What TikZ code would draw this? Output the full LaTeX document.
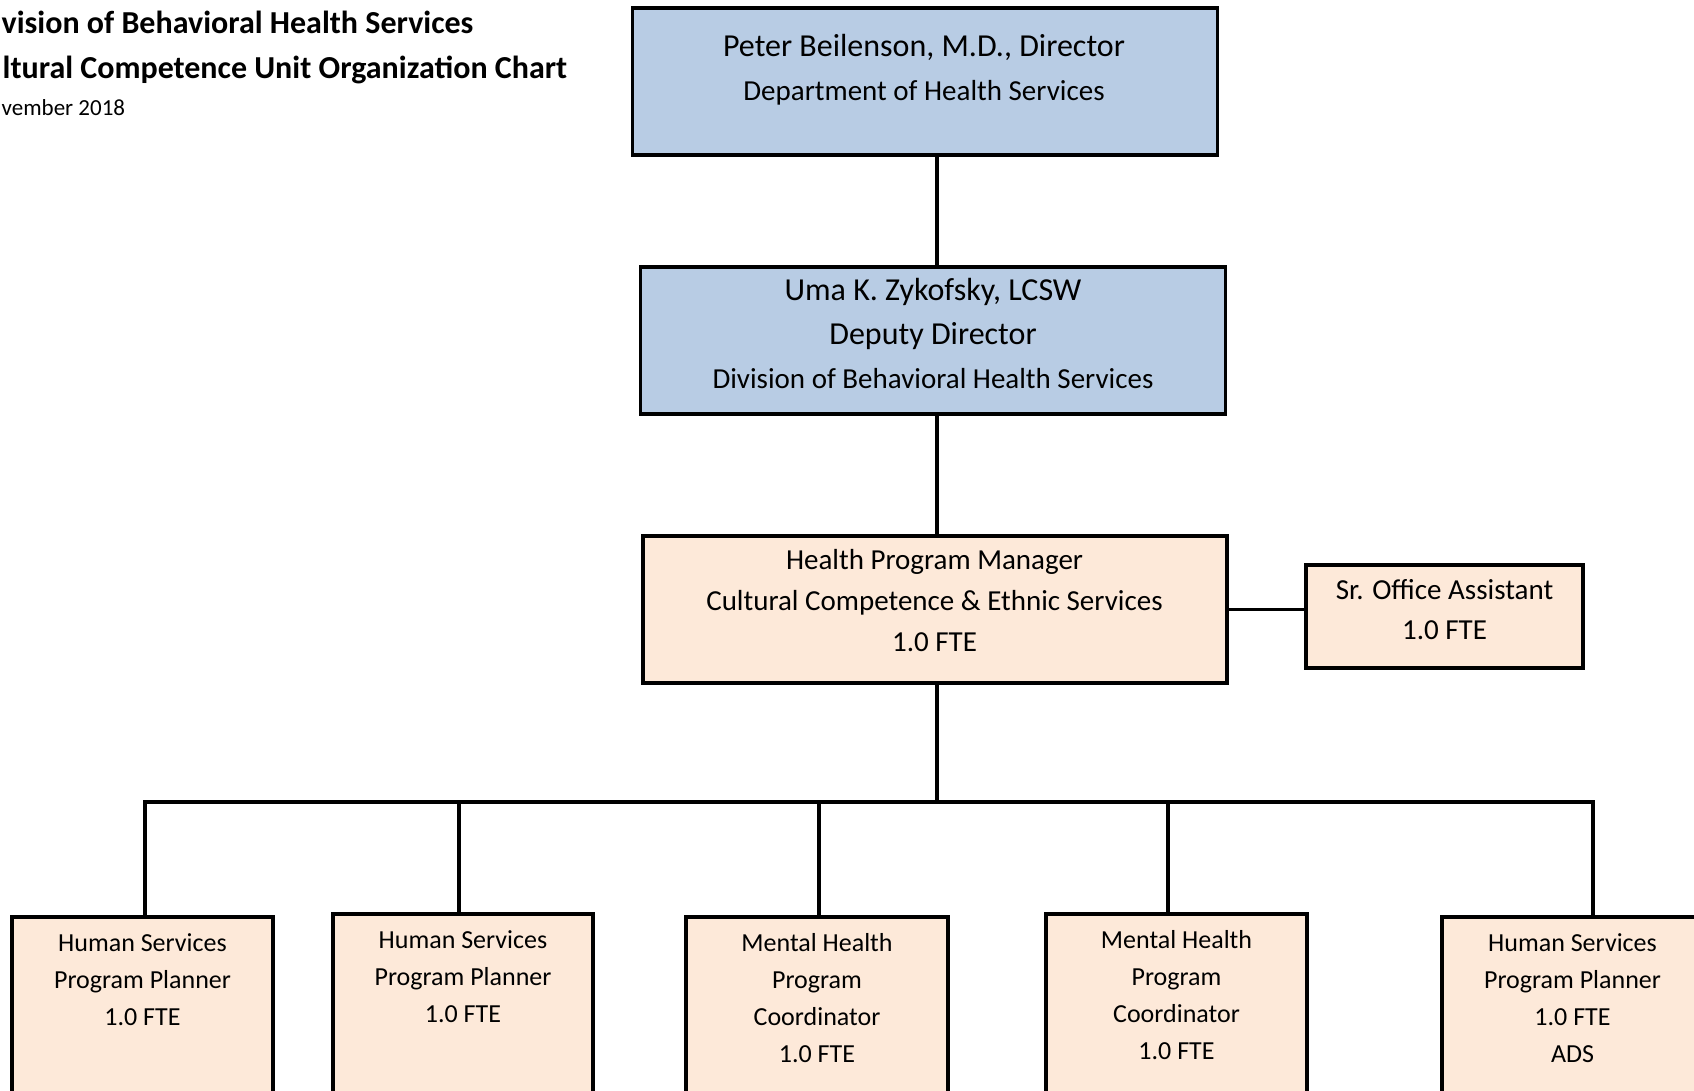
\documentclass[tikz,border=0pt]{standalone}
\usepackage{fontspec}
\setmainfont{Carlito}
\usetikzlibrary{positioning}
\definecolor{headblue}{HTML}{B8CCE4}
\definecolor{unitpeach}{HTML}{FDE9D9}

\begin{document}
\begin{tikzpicture}[x=1pt, y=-1pt, line width=3.4pt,
  headbox/.style = {draw, fill=headblue, minimum width=585pt, minimum height=147pt},
  unitbox/.style = {draw, fill=unitpeach},
  txt/.style = {align=center, inner sep=0pt},
  title/.style = {anchor=base west, inner sep=0pt}]
\useasboundingbox (0,0) rectangle (1694,1090);

% title lines, as far as the page shows them
\node[title, font=\bfseries\fontsize{32}{38}\selectfont] (title1) at (0,33) {vision of Behavioral Health Services};
\node[title, font=\bfseries\fontsize{32}{38}\selectfont] (title2) at (1,78) {ltural Competence Unit Organization Chart};
\node[title, font=\fontsize{23}{28}\selectfont] (title3) at (0,115) {vember 2018};

% upper levels
\node[headbox] (dir) at (925,81.5) {};
\node[txt, font=\fontsize{29}{44}\selectfont] (dirtxt) at (924,70) {{\fontsize{32}{44}\selectfont Peter Beilenson, M.D., Director}\\Department of Health Services};
\node[headbox] (dep) at (933,340.5) {};
\node[txt, font=\fontsize{32}{44}\selectfont] (deptxt) at (933,333) {Uma K. Zykofsky, LCSW\\Deputy Director\\{\fontsize{29}{44}\selectfont Division of Behavioral Health Services}};

\node[unitbox, minimum width=584pt, minimum height=147pt] (mgr) at (935,609.5) {};
\node[txt, font=\fontsize{29}{41}\selectfont] (mgrtxt) at (934.5,601) {Health Program Manager\\Cultural Competence \& Ethnic Services\\1.0 FTE};
\node[unitbox, minimum width=277pt, minimum height=103pt] (sroa) at (1444.5,616.5) {};
\node[txt, font=\fontsize{29}{40}\selectfont] (sroatxt) at (1444.5,610) {Sr. Office Assistant\\1.0 FTE};

% staff row
\node[unitbox, minimum width=261pt, minimum height=183pt] (hs1) at (142.5,1008.5) {};
\node[unitbox, minimum width=260pt, minimum height=186pt] (hs2) at (463,1007) {};
\node[unitbox, minimum width=262pt, minimum height=183pt] (mhc1) at (817,1008.5) {};
\node[unitbox, minimum width=261pt, minimum height=186pt] (mhc2) at (1176.5,1007) {};
\node[unitbox, minimum width=261pt, minimum height=183pt] (hs3) at (1572.5,1008.5) {};

\node[txt, font=\fontsize{26}{37}\selectfont] (hs1txt) at (142.5,980) {Human Services\\Program Planner\\1.0 FTE};
\node[txt, font=\fontsize{26}{37}\selectfont] (hs2txt) at (463,977) {Human Services\\Program Planner\\1.0 FTE};
\node[txt, font=\fontsize{26}{37}\selectfont] (mhc1txt) at (817,998.5) {Mental Health\\Program\\Coordinator\\1.0 FTE};
\node[txt, font=\fontsize{26}{37}\selectfont] (mhc2txt) at (1176.5,995.5) {Mental Health\\Program\\Coordinator\\1.0 FTE};
\node[txt, font=\fontsize{26}{37}\selectfont] (hs3txt) at (1572.5,998.5) {Human Services\\Program Planner\\1.0 FTE\\ADS};

% connectors
\coordinate (spine) at (937,0);
\coordinate (busL) at (145,802);
\coordinate (busR) at (1593,802);
\coordinate (d2) at (459,802);
\coordinate (d3) at (819,802);
\coordinate (d4) at (1168,802);
\draw (dir.south -| spine) -- (dep.north -| spine);
\draw (dep.south -| spine) -- (mgr.north -| spine);
\draw (mgr.east) -- (mgr.east -| sroa.west);
\draw (mgr.south -| spine) -- (spine |- busL);
\draw (busL |- hs1.north) -- (busL) -- (busR) -- (busR |- hs3.north);
\draw (d2) -- (d2 |- hs2.north);
\draw (d3) -- (d3 |- mhc1.north);
\draw (d4) -- (d4 |- mhc2.north);
\end{tikzpicture}
\end{document}
